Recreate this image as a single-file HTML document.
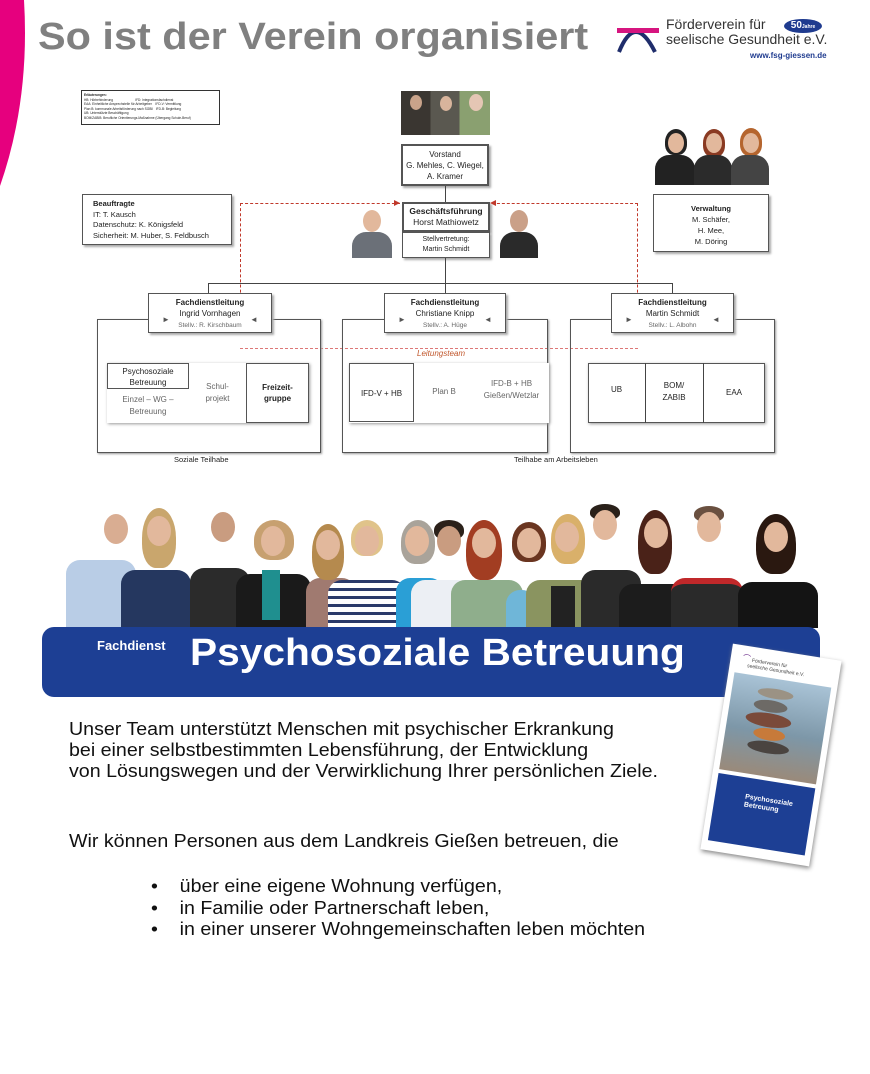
<!DOCTYPE html>
<html><head><meta charset="utf-8">
<style>
*{margin:0;padding:0;box-sizing:border-box}
body{width:870px;height:1074px;background:#fff;position:relative;overflow:hidden;font-family:"Liberation Sans",sans-serif;color:#222}
.a{position:absolute}
.box{position:absolute;background:#fff;border:1px solid #555;box-shadow:2px 2px 2px #aaa;text-align:center;font-size:8px;line-height:11px}
.b{font-weight:bold}
.g{color:#666}
.ln{position:absolute;background:#444}
.dash{position:absolute;border-color:#c0392b;border-style:dashed;border-width:0}
.head{position:absolute;width:24px;height:30px;border-radius:50%;background:#e2b89c}
.hair{position:absolute;border-radius:50% 50% 40% 40%}
.body{position:absolute;border-radius:14px 14px 0 0}
.bt{font-size:18px;line-height:21px;color:#111;transform:scaleX(1.09);transform-origin:0 0;white-space:nowrap}
</style></head><body>

<svg class="a" style="left:0;top:0" width="40" height="190"><path d="M0,0 L24,0 Q30,100 0,186 Z" fill="#e6007e"/></svg>

<div class="a" style="left:38px;top:16px;font-size:38px;font-weight:bold;color:#808080;transform:scaleX(1.09);transform-origin:0 0;white-space:nowrap">So ist der Verein organisiert</div>

<svg class="a" style="left:615px;top:20px" width="50" height="34"><path d="M4,32 Q20,-8 40,32" stroke="#1f2d6b" stroke-width="4" fill="none"/><rect x="2" y="8" width="42" height="5" fill="#d6157f"/></svg>
<div class="a" style="left:666px;top:17px;font-size:14px;line-height:15px;color:#333">Förderverein für<br>seelische Gesundheit e.V.</div>
<div class="a" style="left:784px;top:19px;width:38px;height:14px;border-radius:50%;background:#1f3b8f;color:#fff;font-size:10px;font-weight:bold;text-align:center;line-height:14px">50<span style="font-size:5px">Jahre</span></div>
<div class="a" style="left:750px;top:51px;font-size:8px;font-weight:bold;color:#1f3b8f">www.fsg-giessen.de</div>

<div class="a" style="left:81px;top:90px;width:139px;height:35px;border:1px solid #333;font-size:3.2px;line-height:4.5px;padding:2px">
<b>Erläuterungen:</b><br>HB: Hörbehinderung &nbsp;&nbsp;&nbsp;&nbsp;&nbsp;&nbsp;&nbsp;&nbsp;&nbsp;&nbsp;&nbsp;&nbsp;&nbsp;&nbsp;&nbsp;&nbsp;&nbsp;&nbsp;&nbsp;&nbsp;&nbsp;&nbsp;&nbsp; IFD: Integrationsfachdienst<br>EAA: Einheitliche Ansprechstelle für Arbeitgeber &nbsp;&nbsp; IFD-V: Vermittlung<br>Plan B: kommunale Arbeitsförderung nach SGBII &nbsp; IFD-B: Begleitung<br>UB: Unterstützte Beschäftigung<br>BOM/ZABIB: Berufliche Orientierungs-Maßnahme (Übergang Schule-Beruf)</div>

<div class="a" style="left:401px;top:91px;width:89px;height:44px;background:linear-gradient(90deg,#3a3631 0 33%,#5a5850 33% 66%,#8aa070 66%)"></div>
<div class="head" style="left:410px;top:95px;width:12px;height:15px;background:#c9a38a"></div>
<div class="head" style="left:440px;top:96px;width:12px;height:15px;background:#d8b49c"></div>
<div class="head" style="left:469px;top:94px;width:14px;height:17px;background:#e5c6b4"></div>

<div class="a" style="left:653px;top:127px;width:116px;height:58px">
 <div class="hair" style="left:12px;top:2px;width:22px;height:26px;background:#222"></div><div class="head" style="left:15px;top:6px;width:16px;height:20px"></div><div class="body" style="left:2px;top:28px;width:40px;height:30px;background:#222"></div>
 <div class="hair" style="left:50px;top:2px;width:22px;height:28px;background:#8a3a22"></div><div class="head" style="left:53px;top:6px;width:16px;height:20px"></div><div class="body" style="left:41px;top:28px;width:38px;height:30px;background:#2b2b2b"></div>
 <div class="hair" style="left:87px;top:1px;width:22px;height:28px;background:#b5652e"></div><div class="head" style="left:90px;top:6px;width:16px;height:20px"></div><div class="body" style="left:78px;top:28px;width:38px;height:30px;background:#444"></div>
</div>

<div class="box" style="left:401px;top:144px;width:88px;height:42px;border:2px double #555;padding-top:3px">Vorstand<br>G. Mehles, C. Wiegel,<br>A. Kramer</div>
<div class="ln" style="left:445px;top:186px;width:1px;height:16px"></div>
<div class="box" style="left:402px;top:202px;width:88px;height:30px;border:2px solid #555;padding-top:2px;font-size:8.5px"><b>Geschäftsführung</b><br>Horst Mathiowetz</div>
<div class="box" style="left:402px;top:232px;width:88px;height:26px;font-size:7px;line-height:10px;padding-top:2px">Stellvertretung:<br>Martin Schmidt</div>

<div class="a" style="left:350px;top:208px;width:44px;height:50px;overflow:hidden"><div class="head" style="left:13px;top:2px;width:18px;height:22px"></div><div class="body" style="left:2px;top:24px;width:40px;height:30px;background:#6b7078"></div></div>
<div class="a" style="left:498px;top:208px;width:42px;height:50px;overflow:hidden"><div class="head" style="left:12px;top:2px;width:18px;height:22px;background:#caa088"></div><div class="body" style="left:2px;top:24px;width:38px;height:30px;background:#2a2a2a"></div></div>

<div class="box" style="left:82px;top:194px;width:150px;height:51px;text-align:left;padding:4px 0 0 10px;font-size:7.5px;line-height:10.5px"><b>Beauftragte</b><br>IT: T. Kausch<br>Datenschutz: K. Königsfeld<br>Sicherheit: M. Huber, S. Feldbusch</div>
<div class="box" style="left:653px;top:194px;width:116px;height:58px;padding-top:8px;font-size:7.5px"><b>Verwaltung</b><br>M. Schäfer,<br>H. Mee,<br>M. Döring</div>

<div class="ln" style="left:445px;top:258px;width:1px;height:25px"></div>
<div class="ln" style="left:208px;top:283px;width:465px;height:1px"></div>
<div class="ln" style="left:208px;top:283px;width:1px;height:10px"></div>
<div class="ln" style="left:445px;top:283px;width:1px;height:10px"></div>
<div class="ln" style="left:672px;top:283px;width:1px;height:10px"></div>

<div class="dash" style="left:240px;top:203px;width:160px;height:110px;border-top-width:1px;border-left-width:1px"></div>
<div class="a" style="left:394px;top:200px;width:0;height:0;border-left:6px solid #c0392b;border-top:3px solid transparent;border-bottom:3px solid transparent"></div>
<div class="dash" style="left:492px;top:203px;width:146px;height:110px;border-top-width:1px;border-right-width:1px"></div>
<div class="a" style="left:490px;top:200px;width:0;height:0;border-right:6px solid #c0392b;border-top:3px solid transparent;border-bottom:3px solid transparent"></div>
<div class="dash" style="left:240px;top:348px;width:398px;height:1px;border-top-width:1px;border-color:#d77"></div>

<div class="a" style="left:97px;top:319px;width:224px;height:134px;border:1px solid #555;box-shadow:1px 1px 2px #999"></div>
<div class="a" style="left:342px;top:319px;width:206px;height:134px;border:1px solid #555;box-shadow:1px 1px 2px #999"></div>
<div class="a" style="left:570px;top:319px;width:205px;height:134px;border:1px solid #555;box-shadow:1px 1px 2px #999"></div>

<div class="box" style="left:148px;top:293px;width:124px;height:40px;padding-top:3px"><b>Fachdienstleitung</b><br>Ingrid Vornhagen<br><span class="g" style="font-size:6.5px">Stellv.: R. Kirschbaum</span></div>
<div class="box" style="left:384px;top:293px;width:122px;height:40px;padding-top:3px"><b>Fachdienstleitung</b><br>Christiane Knipp<br><span class="g" style="font-size:6.5px">Stellv.: A. Hüge</span></div>
<div class="box" style="left:611px;top:293px;width:123px;height:40px;padding-top:3px"><b>Fachdienstleitung</b><br>Martin Schmidt<br><span class="g" style="font-size:6.5px">Stellv.: L. Albohn</span></div>
<div class="a" style="left:162px;top:315px;font-size:8px;color:#555">►</div><div class="a" style="left:250px;top:315px;font-size:8px;color:#555">◄</div>
<div class="a" style="left:398px;top:315px;font-size:8px;color:#555">►</div><div class="a" style="left:484px;top:315px;font-size:8px;color:#555">◄</div>
<div class="a" style="left:625px;top:315px;font-size:8px;color:#555">►</div><div class="a" style="left:712px;top:315px;font-size:8px;color:#555">◄</div>

<div class="a" style="left:417px;top:349px;font-size:8px;font-style:italic;color:#c0562b">Leitungsteam</div>

<div class="a" style="left:107px;top:363px;width:202px;height:60px;box-shadow:1px 1px 3px #999;background:#fff"></div>
<div class="box" style="left:107px;top:363px;width:82px;height:26px;box-shadow:none;padding-top:2px">Psychosoziale<br>Betreuung</div>
<div class="a g" style="left:107px;top:394px;width:82px;text-align:center;font-size:8px;line-height:12px">Einzel – WG –<br>Betreuung</div>
<div class="a g" style="left:189px;top:381px;width:57px;text-align:center;font-size:8px;line-height:12px">Schul-<br>projekt</div>
<div class="box" style="left:246px;top:363px;width:63px;height:60px;box-shadow:none;padding-top:18px;font-size:8px"><b>Freizeit-<br>gruppe</b></div>

<div class="a" style="left:349px;top:363px;width:200px;height:60px;box-shadow:1px 1px 3px #999;background:#fff"></div>
<div class="box" style="left:349px;top:363px;width:65px;height:59px;box-shadow:none;padding-top:24px">IFD-V + HB</div>
<div class="a g" style="left:414px;top:387px;width:60px;text-align:center;font-size:8px">Plan B</div>
<div class="a g" style="left:474px;top:378px;width:75px;text-align:center;font-size:8px;line-height:12px">IFD-B + HB<br>Gießen/Wetzlar</div>

<div class="box" style="left:588px;top:363px;width:177px;height:60px;box-shadow:1px 1px 3px #999"></div>
<div class="ln" style="left:645px;top:363px;width:1px;height:60px"></div>
<div class="ln" style="left:703px;top:363px;width:1px;height:60px"></div>
<div class="a" style="left:588px;top:385px;width:57px;text-align:center;font-size:8px">UB</div>
<div class="a" style="left:645px;top:380px;width:58px;text-align:center;font-size:8px;line-height:12px">BOM/<br>ZABIB</div>
<div class="a" style="left:703px;top:388px;width:62px;text-align:center;font-size:8px">EAA</div>

<div class="a" style="left:174px;top:455px;font-size:7.5px">Soziale Teilhabe</div>
<div class="a" style="left:514px;top:455px;font-size:7.5px">Teilhabe am Arbeitsleben</div>

<div class="a" style="left:66px;top:500px;width:760px;height:128px">
<div class="body" style="left:0px;top:60px;width:70px;height:68px;background:#b9cde6"></div><div class="head" style="left:38px;top:14px;background:#d9ad92"></div>
<div class="body" style="left:55px;top:70px;width:70px;height:58px;background:#25375f"></div><div class="hair" style="left:76px;top:8px;width:34px;height:60px;background:#c9a66d"></div><div class="head" style="left:81px;top:16px"></div>
<div class="body" style="left:124px;top:68px;width:60px;height:60px;background:#2b2b2b"></div><div class="head" style="left:145px;top:12px;background:#c99c80"></div>
<div class="body" style="left:170px;top:74px;width:75px;height:54px;background:#1a1a1a"></div><div class="hair" style="left:188px;top:20px;width:40px;height:40px;background:#c7a070"></div><div class="head" style="left:195px;top:26px"></div><div class="a" style="left:196px;top:70px;width:18px;height:50px;background:#1f8f8f"></div>
<div class="body" style="left:240px;top:78px;width:50px;height:50px;background:#a07a70"></div><div class="hair" style="left:246px;top:24px;width:32px;height:56px;background:#b58a4e"></div><div class="head" style="left:250px;top:30px"></div>
<div class="body" style="left:262px;top:80px;width:78px;height:48px;background:repeating-linear-gradient(0deg,#fff 0 5px,#2a3a6a 5px 8px)"></div><div class="hair" style="left:285px;top:20px;width:32px;height:36px;background:#e0c38a"></div><div class="head" style="left:289px;top:26px"></div>
<div class="body" style="left:330px;top:78px;width:48px;height:50px;background:#2a9fd6"></div><div class="hair" style="left:335px;top:20px;width:34px;height:44px;background:#a9a39a"></div><div class="head" style="left:339px;top:26px"></div>
<div class="body" style="left:345px;top:80px;width:60px;height:48px;background:#eceff4"></div><div class="hair" style="left:368px;top:20px;width:30px;height:20px;background:#2b211a"></div><div class="head" style="left:371px;top:26px;background:#c99c80"></div>
<div class="body" style="left:385px;top:80px;width:72px;height:48px;background:#8fae8c"></div><div class="hair" style="left:400px;top:20px;width:36px;height:60px;background:#a23d22"></div><div class="head" style="left:406px;top:28px"></div>
<div class="body" style="left:440px;top:90px;width:30px;height:38px;background:#6fb6d8"></div><div class="hair" style="left:446px;top:22px;width:34px;height:40px;background:#6a3520"></div><div class="head" style="left:451px;top:28px"></div>
<div class="body" style="left:460px;top:80px;width:76px;height:48px;background:#8a9460"></div><div class="a" style="left:485px;top:86px;width:24px;height:42px;background:#222"></div><div class="hair" style="left:485px;top:14px;width:34px;height:50px;background:#d9b06a"></div><div class="head" style="left:489px;top:22px"></div>
<div class="body" style="left:515px;top:70px;width:60px;height:58px;background:#2a2a2a"></div><div class="hair" style="left:524px;top:4px;width:30px;height:16px;background:#2a211a"></div><div class="head" style="left:527px;top:10px"></div>
<div class="body" style="left:553px;top:84px;width:72px;height:44px;background:#1c1c1c"></div><div class="hair" style="left:572px;top:10px;width:34px;height:64px;background:#4a2218"></div><div class="head" style="left:578px;top:18px"></div>
<div class="body" style="left:605px;top:78px;width:72px;height:50px;background:#2a2a2a;border-top:6px solid #c0282a"></div><div class="hair" style="left:628px;top:6px;width:30px;height:16px;background:#6a5040"></div><div class="head" style="left:631px;top:12px"></div>
<div class="body" style="left:672px;top:82px;width:80px;height:46px;background:#141414"></div><div class="hair" style="left:690px;top:14px;width:40px;height:60px;background:#2a1810"></div><div class="head" style="left:698px;top:22px"></div>
</div>

<div class="a" style="left:42px;top:627px;width:778px;height:70px;background:#1d3f94;border-radius:12px"></div>
<div class="a" style="left:97px;top:638px;font-size:13px;font-weight:bold;color:#fff">Fachdienst</div>
<div class="a" style="left:190px;top:632px;font-size:38px;font-weight:bold;color:#fff;transform:scaleX(1.07);transform-origin:0 0;white-space:nowrap">Psychosoziale Betreuung</div>

<div class="a" style="left:716px;top:651px;width:110px;height:208px;background:#fff;transform:rotate(9deg);box-shadow:1px 2px 5px #888;overflow:hidden">
 <div class="a" style="left:12px;top:10px;font-size:5px;color:#444;line-height:6px"><span style="color:#6a2a8a;font-size:8px">⌒</span> Förderverein für<br>&nbsp;&nbsp;&nbsp;&nbsp;seelische Gesundheit e.V.</div>
 <div class="a" style="left:6px;top:28px;width:98px;height:98px;background:linear-gradient(#a9c3d6,#7d97a8 55%,#9a8a7a)"></div>
 <div class="a" style="left:32px;top:38px;width:36px;height:10px;border-radius:50%;background:#9b9284"></div>
 <div class="a" style="left:30px;top:50px;width:34px;height:12px;border-radius:50%;background:#6d6a66"></div>
 <div class="a" style="left:24px;top:63px;width:46px;height:14px;border-radius:50%;background:#7a4a3a"></div>
 <div class="a" style="left:34px;top:78px;width:32px;height:12px;border-radius:50%;background:#c77a3a"></div>
 <div class="a" style="left:30px;top:91px;width:42px;height:12px;border-radius:50%;background:#4a4440"></div>
 <div class="a" style="left:6px;top:130px;width:98px;height:68px;background:#1d3f94"></div>
 <div class="a" style="left:36px;top:146px;font-size:7px;font-weight:bold;color:#fff;line-height:8px">Psychosoziale<br>Betreuung</div>
</div>

<div class="a bt" style="left:69px;top:719px">Unser Team unterstützt Menschen mit psychischer Erkrankung<br>bei einer selbstbestimmten Lebensführung, der Entwicklung<br>von Lösungswegen und der Verwirklichung Ihrer persönlichen Ziele.</div>
<div class="a bt" style="left:69px;top:831px">Wir können Personen aus dem Landkreis Gießen betreuen, die</div>
<div class="a bt" style="left:151px;top:876px;line-height:21.5px">•&nbsp;&nbsp;&nbsp;&nbsp;über eine eigene Wohnung verfügen,<br>•&nbsp;&nbsp;&nbsp;&nbsp;in Familie oder Partnerschaft leben,<br>•&nbsp;&nbsp;&nbsp;&nbsp;in einer unserer Wohngemeinschaften leben möchten</div>

</body></html>
